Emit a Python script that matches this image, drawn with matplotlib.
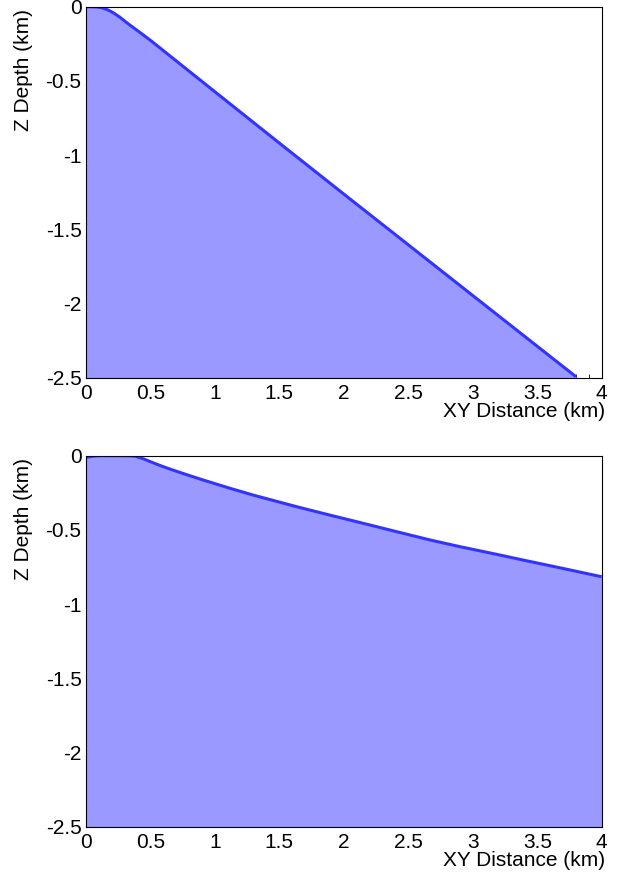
import numpy as np
import matplotlib
matplotlib.use('Agg')
import matplotlib.pyplot as plt
from matplotlib.ticker import MultipleLocator

plt.rcParams['font.family'] = ['Liberation Sans', 'DejaVu Sans']

# trajectory profiles (km)
top_x = [0, 0.04, 0.08, 0.10, 0.12, 0.14, 0.16, 0.18, 0.2, 0.22, 0.24, 0.27, 0.3, 0.34, 0.4,
         0.5, 1.0, 1.5, 2.0, 2.5, 3.0, 3.5, 3.8]
top_z = [0, 0, -0.001, -0.003, -0.006, -0.011, -0.017, -0.025, -0.034, -0.044, -0.056, -0.074,
         -0.095, -0.122, -0.160, -0.225, -0.572, -0.918, -1.262, -1.604, -1.946, -2.288, -2.493]

bot_x = [0, 0.05, 0.1, 0.2, 0.3, 0.38, 0.45, 0.5, 0.6, 0.7, 0.8, 0.9, 1.0, 1.119, 1.3, 1.636,
         1.9, 2.152, 2.4, 2.669, 2.9, 3.186, 3.4, 3.7, 4.0]
bot_z = [-0.012, -0.004, 0, 0, 0, -0.002, -0.022, -0.040, -0.074, -0.104, -0.133, -0.161,
         -0.188, -0.220, -0.266, -0.344, -0.402, -0.456, -0.510, -0.568, -0.613, -0.665,
         -0.705, -0.760, -0.816]

x_ticks = [0, 0.5, 1, 1.5, 2, 2.5, 3, 3.5, 4]
x_labels = ['0', '0.5', '1', '1.5', '2', '2.5', '3', '3.5', '4']
z_ticks = [0, -0.5, -1, -1.5, -2, -2.5]
z_labels = ['0', '-0.5', '-1', '-1.5', '-2', '-2.5']

fill_col = '#9999ff'
line_col = '#3333ff'
fs = 15

fig = plt.figure(figsize=(6.23, 8.77), dpi=100)
ax1 = fig.add_axes([0.1376, 0.5693, 0.8283, 0.4230])
ax2 = fig.add_axes([0.1376, 0.0574, 0.8283, 0.4230])


def draw_panel(ax, xs, zs):
    ax.fill_between(xs, zs, -2.5, color=fill_col, lw=0, zorder=1)
    ax.plot(xs, zs, color=line_col, lw=2.2, zorder=2, solid_capstyle='butt')
    ax.set_xlim(0, 4)
    ax.set_ylim(-2.5, 0)
    ax.set_axisbelow(True)
    ax.set_xticks(x_ticks)
    ax.set_xticklabels(x_labels)
    ax.xaxis.set_minor_locator(MultipleLocator(0.1))
    ax.set_yticks(z_ticks)
    ax.set_yticklabels(z_labels)
    ax.tick_params(axis='x', which='both', direction='in', length=3, width=0.6,
                   labelsize=fs, pad=4.5)
    ax.tick_params(axis='y', which='both', direction='in', length=3, width=0.6,
                   labelsize=fs, pad=3)
    for s in ax.spines.values():
        s.set_linewidth(0.8)
        s.set_color('black')
    ax.set_xlabel('XY Distance (km)', fontsize=fs, ha='right', va='center')
    ax.xaxis.set_label_coords(1.006, -0.0916)


draw_panel(ax1, top_x, top_z)
draw_panel(ax2, bot_x, bot_z)

fig.text(0.0385, 0.920, 'Z Depth (km)', rotation=90, ha='center', va='center', fontsize=fs)
fig.text(0.0385, 0.408, 'Z Depth (km)', rotation=90, ha='center', va='center', fontsize=fs)

fig.savefig('out.png', dpi=100)
